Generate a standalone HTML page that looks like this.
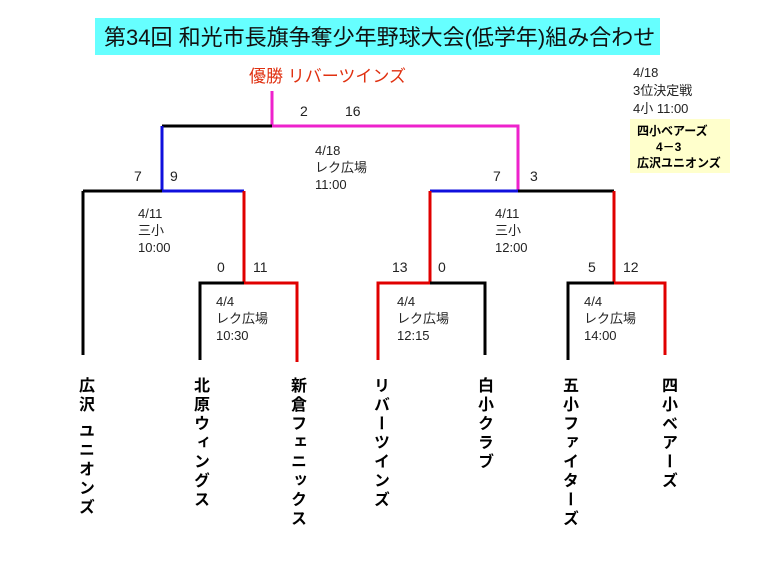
<!DOCTYPE html>
<html><head><meta charset="utf-8"><style>
body{margin:0;background:#fff;}
svg{display:block}
text{font-family:"Liberation Sans","Noto Sans CJK JP",sans-serif;}
.s{font-size:13px;fill:#222}
.n{font-size:14px;fill:#222}
.t{font-family:"Liberation Sans","Noto Sans CJK JP",sans-serif;font-weight:bold;font-size:16px;position:absolute;writing-mode:vertical-rl;letter-spacing:3px;color:#000;line-height:18px}
</style></head><body>
<div style="position:relative;width:768px;height:576px;overflow:hidden">
<svg width="768" height="576" style="position:absolute;left:0;top:0">
<rect x="95" y="18" width="565" height="37" fill="#66ffff"/>
<text x="104" y="45" style="font-size:22px" fill="#111">第34回 和光市長旗争奪少年野球大会(低学年)組み合わせ</text>
<text x="249" y="82" style="font-size:17px" fill="#e03010">優勝 リバーツインズ</text>
<g stroke-width="3" fill="none">
<path d="M272 91V126H518V191" stroke="#ee22cc"/>
<path d="M162 126H272" stroke="#000"/>
<path d="M162 126V191H244" stroke="#1010dd"/>
<path d="M83 191H162" stroke="#000"/>
<path d="M83 191V355" stroke="#000"/>
<path d="M244 191V283H297V362" stroke="#e00000"/>
<path d="M200 360V283H244" stroke="#000"/>
<path d="M518 191H430" stroke="#1010dd"/>
<path d="M518 191H614" stroke="#000"/>
<path d="M430 191V283H378V360" stroke="#e00000"/>
<path d="M430 283H485V355" stroke="#000"/>
<path d="M614 191V283H665V355" stroke="#e00000"/>
<path d="M614 283H568V360" stroke="#000"/>
</g>
<g class="n">
<text x="300" y="116" class="n">2</text><text x="345" y="116" class="n">16</text>
<text x="134" y="181" class="n">7</text><text x="170" y="181" class="n">9</text>
<text x="493" y="181" class="n">7</text><text x="530" y="181" class="n">3</text>
<text x="217" y="272" class="n">0</text><text x="253" y="272" class="n">11</text>
<text x="392" y="272" class="n">13</text><text x="438" y="272" class="n">0</text>
<text x="588" y="272" class="n">5</text><text x="623" y="272" class="n">12</text>
</g>
<g class="s">
<text x="315" y="155">4/18</text><text x="315" y="172">レク広場</text><text x="315" y="189">11:00</text>
<text x="138" y="218">4/11</text><text x="138" y="235">三小</text><text x="138" y="252">10:00</text>
<text x="495" y="218">4/11</text><text x="495" y="235">三小</text><text x="495" y="252">12:00</text>
<text x="216" y="306">4/4</text><text x="216" y="323">レク広場</text><text x="216" y="340">10:30</text>
<text x="397" y="306">4/4</text><text x="397" y="323">レク広場</text><text x="397" y="340">12:15</text>
<text x="584" y="306">4/4</text><text x="584" y="323">レク広場</text><text x="584" y="340">14:00</text>
<text x="633" y="77">4/18</text><text x="633" y="95">3位決定戦</text><text x="633" y="113">4小 11:00</text>
</g>
<rect x="630" y="119" width="100" height="54" fill="#ffffcc"/>
<text x="637" y="135" style="font-size:12px;font-weight:bold">四小ベアーズ</text>
<text x="656" y="151" style="font-size:12px;font-weight:bold">4－3</text>
<text x="637" y="167" style="font-size:12px;font-weight:bold">広沢ユニオンズ</text>
</svg>
<div class="t" style="left:75px;top:377px">広沢 ユニオンズ</div>
<div class="t" style="left:190px;top:377px">北原ウィングス</div>
<div class="t" style="left:287px;top:377px">新倉フェニックス</div>
<div class="t" style="left:370px;top:377px">リバーツインズ</div>
<div class="t" style="left:474px;top:377px">白小クラブ</div>
<div class="t" style="left:559px;top:377px">五小ファイターズ</div>
<div class="t" style="left:658px;top:377px">四小ベアーズ</div>
</div>
</body></html>
